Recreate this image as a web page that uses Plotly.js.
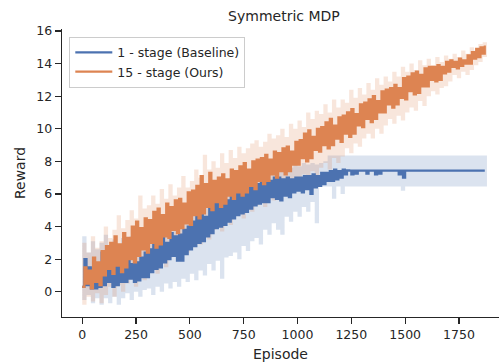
<!DOCTYPE html>
<html>
<head>
<meta charset="utf-8">
<script src="https://cdn.plot.ly/plotly-3.0.1.min.js"></script>
<style>html,body{margin:0;padding:0;background:#fff}#chart{width:499px;height:364px}</style>
</head>
<body>
<div id="chart"></div>
<script>
// Episodes sampled every 10 for the lines, every 20 for the confidence bands
const lineEpisodes = Array.from({length: 188}, (_, i) => i * 10);
const bandEpisodes = Array.from({length: 95}, (_, i) => i * 20);

const seriesNames = ['1 - stage (Baseline)', '15 - stage (Ours)'];
const xTicks = [0, 250, 500, 750, 1000, 1250, 1500, 1750];
const yTicks = [0, 2, 4, 6, 8, 10, 12, 14, 16];

// 1 - stage (Baseline) reward (noisy, alternating lows and highs)
const baselineReward = [
  0.3,2.0,0.4,1.5,0.2, 1.4,0.2,1.7,0.3,2.4, 0.4,2.5,0.6,2.0,0.3, 1.6,0.4,1.9,0.6,1.8,
  0.6,2.0,0.8,1.7,0.6, 1.8,0.7,2.1,0.9,2.4, 0.9,2.6,1.2,2.9,1.4, 3.1,1.5,3.3,1.8,3.0,
  2.0,3.6,2.2,3.4,1.9, 3.5,1.9,3.8,2.3,4.0, 2.6,4.3,2.8,4.6,3.0, 4.8,3.1,4.6,3.4,5.1,
  3.6,5.4,3.9,5.5,4.0, 5.8,4.1,5.6,4.3,5.9, 4.5,6.1,4.7,6.2,4.8, 6.3,4.9,6.4,5.1,6.5,
  5.3,6.6,5.4,6.7,5.5, 6.9,5.5,6.8,5.8,7.0, 5.7,7.0,5.6,6.9,5.9, 7.0,5.8,6.9,6.1,7.0,
  6.2,7.0,6.1,7.1,6.3, 7.1,6.0,7.2,6.4,7.1, 6.5,7.3,6.6,7.3,6.8, 7.4,6.8,7.5,6.9,7.4,
  7.0,7.5,7.2,7.45,7.43, 7.2,7.43,7.25,7.43,7.43, 7.43,7.43,7.25,7.43,7.43, 7.43,7.2,7.43,7.25,7.43,
  7.43,7.43,7.43,7.43,7.43, 7.43,7.43,7.2,7.43,7.0,
  7.43,7.43,7.43,7.43,7.43, 7.43,7.43,7.43,7.43,7.43, 7.43,7.43,7.43,7.43,7.43, 7.43,7.43,7.43,7.43,7.43,
  7.43,7.43,7.43,7.43,7.43, 7.43,7.43,7.43,7.43,7.43, 7.43,7.43,7.43,7.43,7.43, 7.43,7.43,7.43
];
const baselineUpper = [
  3.4,2.4,3.1,2.6,3.0, 3.5,2.8,3.2,2.7,3.3, 3.1,3.4,2.9,3.6,3.9, 3.5,4.1,3.8,4.5,4.0,
  4.6,4.5,4.9,4.5,5.1, 5.1,5.6,5.3,5.9,5.7, 6.2,6.0,6.6,6.3,6.8, 6.7,7.1,6.8,7.2,7.0,
  7.3,7.1,7.5,7.3,7.6, 7.7,7.5,7.8,7.6,7.8, 7.7,7.9,7.8,7.9,7.8, 7.9,8.0,8.36,8.36,8.36,
  8.36,8.36,8.36,8.36,8.36, 8.36,8.36,8.36,8.36,8.36, 8.36,8.36,8.36,8.36,8.36, 8.36,8.36,8.36,8.36,8.36,
  8.36,8.36,8.36,8.36,8.36, 8.36,8.36,8.36,8.36,8.36, 8.36,8.36,8.36,8.36,8.36
];
const baselineLower = [
  -0.5,-0.2,-0.7,-0.4,-0.8, -0.4,-0.7,-0.3,-0.8,-0.4, -0.1,-0.5,0.0,-0.3,0.1, 0.2,-0.2,0.3,0.0,0.5,
  0.2,0.6,0.3,0.8,0.6, 1.1,0.7,1.3,1.0,1.7, 1.3,1.9,0.8,2.1,2.2, 2.4,2.0,2.8,2.5,3.1,
  3.3,2.9,3.8,3.5,4.2, 3.8,3.5,4.6,4.3,4.9, 4.6,5.2,4.9,5.5,4.2, 6.45,6.45,6.45,5.7,6.45,
  6.0,6.45,6.45,6.45,6.45, 6.45,6.45,6.45,6.45,6.45, 6.45,6.45,6.45,6.45,6.2, 6.45,6.45,6.45,6.45,6.45,
  6.45,6.45,6.45,6.45,6.45, 6.45,6.45,6.45,6.45,6.45, 6.45,6.45,6.45,6.45,6.45
];

// 15 - stage (Ours) reward (noisy, alternating lows and highs)
const oursReward = [
  0.3,1.5,0.5,1.3,0.2, 2.1,0.6,1.8,0.4,2.5, 1.0,2.8,1.4,3.0,1.1, 3.4,1.6,2.9,1.2,3.6,
  1.5,3.3,2.0,4.0,1.8, 4.3,2.2,3.9,2.6,4.5, 2.4,4.4,3.0,4.9,2.7, 5.1,2.9,4.7,3.4,5.4,
  3.3,5.2,3.8,5.6,3.6, 5.7,3.9,5.4,4.2,6.1, 4.1,6.2,4.7,6.5,4.5, 7.1,4.8,6.6,5.2,7.3,
  5.0,6.8,5.5,7.0,5.2, 7.2,5.4,6.9,5.9,7.5, 5.7,7.4,6.1,7.7,5.9, 7.9,6.1,7.5,6.5,8.0,
  6.3,8.1,6.8,8.2,6.6, 8.4,6.8,8.1,7.2,8.6, 7.0,8.5,7.4,8.8,7.2, 8.9,7.4,8.6,7.8,9.2,
  7.8,9.3,8.2,9.7,8.0, 9.9,8.2,9.5,8.7,10.0, 8.6,10.1,9.0,10.4,8.8, 10.6,9.0,10.2,9.4,10.7,
  9.2,10.8,9.7,11.0,9.5, 11.2,9.7,10.9,10.2,11.5, 10.1,11.6,10.6,11.8,10.4, 12.0,10.6,11.7,11.0,12.3,
  11.0,12.4,11.5,12.5,11.3, 12.7,11.5,12.5,11.9,13.1, 11.8,13.2,12.3,13.4,12.1, 13.5,12.2,13.3,12.6,13.7,
  12.6,13.8,13.0,13.8,12.9, 13.9,13.0,13.8,13.4,14.1, 13.5,14.2,13.8,14.1,13.7, 14.3,13.85,14.2,14.0,14.5,
  14.0,14.7,14.3,14.9,14.4, 15.0,14.6,15.1
];
const oursUpper = [
  3.0,2.4,3.4,2.7,3.1, 4.0,3.3,3.8,4.7,3.9, 4.4,5.0,4.5,5.9,5.1, 5.3,5.9,5.4,6.3,5.7,
  6.6,5.9,6.4,7.1,6.4, 6.8,7.5,7.0,8.4,7.5, 8.0,7.6,8.5,7.9,8.7, 8.2,8.9,8.5,8.8,9.1,
  9.3,8.9,9.2,9.7,9.4, 9.6,10.0,9.5,10.3,10.0, 10.5,10.1,11.0,10.6,11.1, 10.9,11.5,11.0,11.8,11.3,
  11.8,11.6,12.4,11.9,12.5, 12.1,12.8,12.4,13.1,12.7, 13.2,12.9,13.5,13.2,13.8, 13.5,14.0,13.6,14.2,13.9,
  14.3,13.9,14.4,14.1,14.5, 14.3,14.6,14.4,14.8,14.6, 15.0,14.8,15.2,15.3,15.4
];
const oursLower = [
  -0.8,-0.3,-0.6,-0.1,-0.7, -0.2,0.3,-0.3,0.4,0.0, 0.5,0.8,0.3,1.0,0.7, 1.2,1.6,1.1,1.8,1.5,
  2.1,2.3,1.9,2.7,2.4, 2.8,3.2,2.9,3.6,3.2, 3.8,4.2,3.7,4.4,4.1, 4.7,4.9,4.5,5.2,4.9,
  5.3,5.6,5.2,5.9,5.6, 6.1,6.3,6.0,6.7,6.4, 6.8,7.2,6.8,7.4,7.1, 7.6,7.9,7.5,8.2,7.9,
  8.3,8.8,8.5,9.1,8.9, 9.4,9.7,9.4,10.0,9.7, 10.2,10.6,10.3,10.8,10.5, 11.0,11.3,11.1,11.7,11.4,
  12.0,12.3,12.1,12.5,12.6, 12.9,13.3,13.1,13.5,13.3, 13.6,13.9,14.1,14.4,14.6
];

const BLUE = '#4c72b0', ORANGE = '#dd8452';
const TXT = '#262626';
const FONT = '"DejaVu Sans", Verdana, sans-serif';

function band(lower, upper, fillColor) {
  return [
    {x: bandEpisodes, y: lower, type: 'scatter', mode: 'lines', line: {width: 0, color: fillColor, shape: 'hv', simplify: false},
     showlegend: false, hoverinfo: 'skip'},
    {x: bandEpisodes, y: upper, type: 'scatter', mode: 'lines', line: {width: 0, color: fillColor, shape: 'hv', simplify: false},
     fill: 'tonexty', fillcolor: fillColor, showlegend: false, hoverinfo: 'skip'}
  ];
}

const data = [
  ...band(baselineLower, baselineUpper, 'rgba(76,114,176,0.2)'),
  ...band(oursLower, oursUpper, 'rgba(221,132,82,0.2)'),
  {x: lineEpisodes, y: baselineReward, type: 'scatter', mode: 'lines', name: seriesNames[0],
   line: {color: BLUE, width: 2.2, shape: 'hv', simplify: false}},
  {x: lineEpisodes, y: oursReward, type: 'scatter', mode: 'lines', name: seriesNames[1],
   line: {color: ORANGE, width: 2.2, shape: 'hv', simplify: false}}
];

const axisCommon = {
  ticks: 'outside', ticklen: 6, tickwidth: 1.25, tickcolor: TXT,
  showline: true, linecolor: TXT, linewidth: 1.25,
  showgrid: false, zeroline: false, tickfont: {family: FONT, size: 12.5, color: TXT}
};

const layout = {
  width: 499, height: 364,
  margin: {l: 62, r: 0, t: 29, b: 47, pad: 0},
  paper_bgcolor: '#ffffff', plot_bgcolor: '#ffffff',
  font: {family: FONT, size: 12.5, color: TXT},
  title: {text: 'Symmetric MDP', font: {family: FONT, size: 14, color: TXT},
          x: 0.569, xref: 'container', xanchor: 'center', y: 0.955, yref: 'container', yanchor: 'middle'},
  xaxis: Object.assign({}, axisCommon, {range: [-94, 1936], tickvals: xTicks, ticktext: xTicks.map(String),
          title: {text: 'Episode', font: {family: FONT, size: 14, color: TXT}, standoff: 8}}),
  yaxis: Object.assign({}, axisCommon, {range: [-1.55, 16.12], tickvals: yTicks, ticktext: yTicks.map(String),
          title: {text: 'Reward', font: {family: FONT, size: 14, color: TXT}, standoff: 7}}),
  legend: {x: 0.0167, y: 0.973, xanchor: 'left', yanchor: 'top', bgcolor: 'rgba(255,255,255,0.8)',
           bordercolor: '#cccccc', borderwidth: 1, font: {family: FONT, size: 12.5, color: TXT},
           itemwidth: 37, traceorder: 'normal', tracegroupgap: 0},
  showlegend: true
};

Plotly.newPlot('chart', data, layout, {staticPlot: true, displayModeBar: false});
</script>
</body>
</html>
